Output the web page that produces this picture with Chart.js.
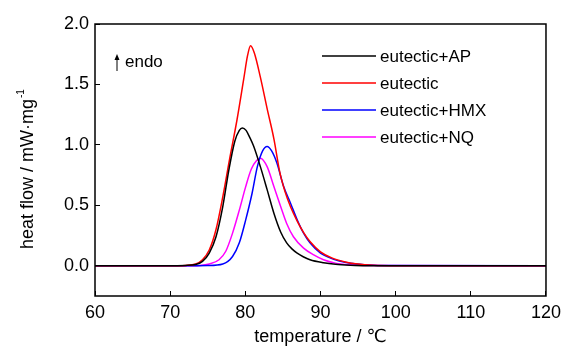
<!DOCTYPE html>
<html>
<head>
<meta charset="utf-8">
<script src="https://cdn.jsdelivr.net/npm/chart.js@4/dist/chart.umd.min.js"></script>
<style>
  body { margin: 0; background: #fff; }
  canvas { display: block; }
</style>
</head>
<body>
<canvas id="dscChart" width="572" height="346"></canvas>
<script>
// tick labels
const xTicks = [60, 70, 80, 90, 100, 110, 120];
const yTicks = [0, 0.5, 1.0, 1.5, 2.0];

// series names + colours
const seriesNames = ['eutectic+AP', 'eutectic', 'eutectic+HMX', 'eutectic+NQ'];
const seriesColors = ['#000000', '#ff0000', '#0000ff', '#ff00ff'];

// eutectic+AP
const apT = [60, 70, 72, 73.4, 74.3, 75.2, 76.1, 77, 77.8, 78.6, 79.2, 79.6, 80.1, 80.6, 81.1, 82, 82.9, 83.8, 84.7, 85.5, 86.2, 86.9, 87.7, 88.6, 90.4, 92, 94, 96, 120];
const apV = [0, 0, 0.003, 0.01, 0.036, 0.105, 0.24, 0.49, 0.79, 1.03, 1.12, 1.14, 1.12, 1.06, 0.99, 0.82, 0.63, 0.435, 0.28, 0.19, 0.14, 0.105, 0.075, 0.05, 0.025, 0.012, 0.004, 0, 0];

// eutectic
const euT = [60, 70, 72, 73.4, 74.3, 75.2, 76.1, 77, 77.9, 78.9, 79.8, 80.3, 80.7, 81.2, 82, 82.9, 83.8, 84.6, 85.3, 86, 86.9, 87.8, 88.6, 90, 91.5, 93.3, 95, 97, 100, 120];
const euV = [0, 0, 0.003, 0.015, 0.05, 0.13, 0.30, 0.57, 0.88, 1.21, 1.55, 1.74, 1.82, 1.76, 1.56, 1.30, 1.05, 0.77, 0.61, 0.49, 0.37, 0.27, 0.2, 0.115, 0.065, 0.032, 0.014, 0.004, 0, 0];

// eutectic+HMX
const hmxT = [60, 72, 75, 77, 78.3, 79.2, 80.05, 80.9, 81.6, 82.3, 82.9, 83.5, 84.2, 85.1, 86, 86.9, 87.75, 88.6, 90, 91.1, 92.5, 94, 96, 98, 120];
const hmxV = [0, 0, 0.002, 0.015, 0.077, 0.19, 0.38, 0.60, 0.82, 0.95, 0.986, 0.95, 0.85, 0.655, 0.52, 0.38, 0.27, 0.19, 0.105, 0.07, 0.04, 0.02, 0.008, 0.002, 0];

// eutectic+NQ
const nqT = [60, 72, 74, 75.2, 76.5, 77.4, 78.3, 79.2, 80.05, 80.8, 81.5, 82, 82.9, 83.8, 84.7, 85.5, 86.4, 87.75, 89.1, 90.4, 92, 94, 96, 120];
const nqV = [0, 0, 0.003, 0.015, 0.05, 0.12, 0.27, 0.46, 0.655, 0.80, 0.87, 0.89, 0.82, 0.655, 0.49, 0.35, 0.24, 0.146, 0.09, 0.05, 0.022, 0.008, 0.002, 0];

const seriesT = [apT, euT, hmxT, nqT];
const seriesV = [apV, euV, hmxV, nqV];

const FONT = "'Liberation Sans', Arial, 'DejaVu Sans', sans-serif";

const datasets = seriesNames.map((name, i) => ({
    label: name,
    data: seriesT[i].map((t, k) => ({ x: t, y: seriesV[i][k] })),
    borderColor: seriesColors[i],
    borderWidth: 1.5,
    pointRadius: 0,
    fill: false,
    cubicInterpolationMode: 'monotone'
}));

// frame, legend, endo arrow, y title
const extras = {
    id: 'extras',
    afterDraw(chart) {
        const { ctx, chartArea: a } = chart;
        ctx.save();
        ctx.strokeStyle = '#000';
        ctx.lineWidth = 1.5;
        ctx.strokeRect(a.left, a.top, a.right - a.left, a.bottom - a.top);

        // legend
        ctx.font = '17px ' + FONT;
        ctx.textBaseline = 'middle';
        ctx.textAlign = 'left';
        chart.data.datasets.forEach((ds, i) => {
            const y = 56 + i * 27;
            ctx.strokeStyle = ds.borderColor;
            ctx.lineWidth = 1.5;
            ctx.beginPath();
            ctx.moveTo(322, y);
            ctx.lineTo(376, y);
            ctx.stroke();
            ctx.fillStyle = '#000';
            ctx.fillText(ds.label, 380, y + 1);
        });

        // endo arrow
        ctx.strokeStyle = '#000';
        ctx.fillStyle = '#000';
        ctx.lineWidth = 1;
        ctx.beginPath();
        ctx.moveTo(117, 71);
        ctx.lineTo(117, 58);
        ctx.stroke();
        ctx.beginPath();
        ctx.moveTo(117, 54);
        ctx.lineTo(114.5, 60);
        ctx.lineTo(119.5, 60);
        ctx.closePath();
        ctx.fill();
        ctx.fillText('endo', 125, 62);

        // y title with superscript
        ctx.translate(28, 249);
        ctx.rotate(-Math.PI / 2);
        const main = 'heat flow / mW\u00b7mg';
        ctx.font = '18px ' + FONT;
        ctx.fillText(main, 0, 0);
        const w = ctx.measureText(main).width;
        ctx.font = '10px ' + FONT;
        ctx.fillText('-1', w + 1, -7);
        ctx.restore();
    }
};

new Chart(document.getElementById('dscChart'), {
    type: 'line',
    data: { datasets },
    options: {
        responsive: false,
        animation: false,
        devicePixelRatio: 1,
        layout: { padding: { left: 0, right: 16, top: 24, bottom: 0 } },
        plugins: {
            legend: { display: false },
            tooltip: { enabled: false }
        },
        scales: {
            x: {
                type: 'linear',
                min: 60,
                max: 120,
                afterBuildTicks: scale => { scale.ticks = xTicks.map(v => ({ value: v })); },
                afterFit: scale => { scale.height = 50; },
                border: { display: false },
                grid: { drawOnChartArea: false, drawTicks: true, tickLength: -5, color: '#000', lineWidth: 1 },
                ticks: { autoSkip: false, maxRotation: 0, padding: 11, color: '#000', font: { size: 18, family: FONT } },
                title: { display: true, text: 'temperature / \u2103', color: '#000', padding: { top: 0, bottom: -2 }, font: { size: 18, family: FONT } }
            },
            y: {
                min: -0.25,
                max: 2.0,
                afterBuildTicks: scale => { scale.ticks = yTicks.map(v => ({ value: v })); },
                afterFit: scale => { scale.width = 95; },
                border: { display: false },
                grid: { drawOnChartArea: false, drawTicks: true, tickLength: -5, color: '#000', lineWidth: 1 },
                ticks: { padding: 11, color: '#000', font: { size: 18, family: FONT }, callback: v => v.toFixed(1) }
            }
        }
    },
    plugins: [extras]
});
</script>
</body>
</html>
